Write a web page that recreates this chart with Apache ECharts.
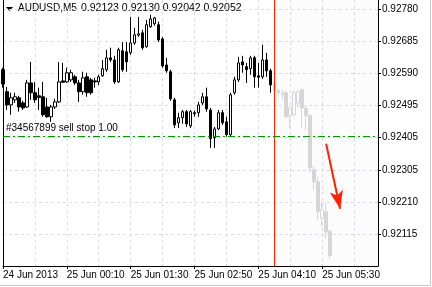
<!DOCTYPE html>
<html><head><meta charset="utf-8">
<script src="https://cdn.jsdelivr.net/npm/echarts@6/dist/echarts.min.js"></script>
<style>html,body{margin:0;padding:0;background:#fff}#c{width:432px;height:287px}</style>
</head><body><div id="c"></div>
<script>
// ---- data ----
const symbolName = 'AUDUSD,M5';
const headerValues = '0.92123 0.92130 0.92042 0.92052';
const xTickLabels = ['24 Jun 2013', '25 Jun 00:10', '25 Jun 01:30', '25 Jun 02:50', '25 Jun 04:10', '25 Jun 05:30'];
const yTickLabels = ['0.92780', '0.92685', '0.92590', '0.92495', '0.92405', '0.92305', '0.92210', '0.92115'];

const opens = [
  0.92601,0.92536,0.92497,0.92512,0.92518,0.92503,0.92491,0.92562,0.92533,0.92524,
  0.92521,0.92491,0.92462,0.92491,0.92506,0.92568,0.92565,0.92571,0.92580,0.92562,
  0.92536,0.92580,0.92571,0.92568,0.92565,0.92583,0.92601,0.92636,0.92630,0.92565,
  0.92657,0.92654,0.92651,0.92680,0.92703,0.92710,0.92669,0.92728,0.92737,0.92734,
  0.92692,0.92615,0.92595,0.92512,0.92444,0.92459,0.92477,0.92435,0.92474,0.92474,
  0.92503,0.92521,0.92482,0.92400,0.92426,0.92474,0.92447,0.92409,0.92533,0.92571,
  0.92624,0.92610,0.92604,0.92636,0.92583,0.92580,0.92630,0.92598,
  0.92562,0.92539,0.92527,0.92533,0.92465,0.92468,0.92503,0.92542,0.92488,0.92465,
  0.92305,0.92270,0.92163,0.92181,0.92123
];
const closes = [
  0.92559,0.92497,0.92518,0.92521,0.92491,0.92488,0.92562,0.92533,0.92512,0.92519,
  0.92468,0.92462,0.92491,0.92506,0.92565,0.92564,0.92592,0.92592,0.92562,0.92536,
  0.92577,0.92533,0.92533,0.92565,0.92580,0.92604,0.92636,0.92630,0.92565,0.92660,
  0.92601,0.92624,0.92680,0.92704,0.92707,0.92666,0.92734,0.92751,0.92754,0.92689,
  0.92612,0.92598,0.92515,0.92438,0.92459,0.92477,0.92441,0.92477,0.92471,0.92497,
  0.92521,0.92485,0.92397,0.92426,0.92474,0.92444,0.92409,0.92527,0.92571,0.92621,
  0.92615,0.92601,0.92636,0.92580,0.92579,0.92630,0.92598,0.92556,
  0.92539,0.92533,0.92533,0.92462,0.92488,0.92533,0.92536,0.92488,0.92465,0.92311,
  0.92270,0.92181,0.92187,0.92122,0.92052
];
const highs = [
  0.92607,0.92550,0.92533,0.92533,0.92524,0.92509,0.92571,0.92624,0.92565,0.92548,
  0.92565,0.92518,0.92497,0.92515,0.92624,0.92621,0.92607,0.92601,0.92586,0.92571,
  0.92595,0.92592,0.92577,0.92577,0.92586,0.92630,0.92660,0.92666,0.92642,0.92666,
  0.92683,0.92683,0.92757,0.92725,0.92757,0.92719,0.92748,0.92763,0.92757,0.92743,
  0.92698,0.92636,0.92601,0.92518,0.92474,0.92482,0.92482,0.92482,0.92480,0.92506,
  0.92533,0.92548,0.92488,0.92432,0.92482,0.92482,0.92462,0.92533,0.92580,0.92639,
  0.92642,0.92621,0.92642,0.92642,0.92621,0.92675,0.92651,0.92604,
  0.92568,0.92545,0.92542,0.92539,0.92494,0.92539,0.92542,0.92545,0.92494,0.92471,
  0.92317,0.92285,0.92208,0.92208,0.92130
];
const lows = [
  0.92548,0.92482,0.92468,0.92503,0.92477,0.92482,0.92488,0.92512,0.92503,0.92482,
  0.92462,0.92459,0.92447,0.92485,0.92503,0.92562,0.92562,0.92565,0.92556,0.92506,
  0.92527,0.92521,0.92527,0.92548,0.92556,0.92580,0.92595,0.92624,0.92559,0.92562,
  0.92595,0.92595,0.92645,0.92675,0.92698,0.92660,0.92666,0.92725,0.92731,0.92683,
  0.92607,0.92592,0.92509,0.92429,0.92429,0.92441,0.92432,0.92429,0.92462,0.92462,
  0.92497,0.92477,0.92370,0.92370,0.92423,0.92438,0.92403,0.92403,0.92527,0.92565,
  0.92592,0.92562,0.92586,0.92548,0.92548,0.92574,0.92580,0.92533,
  0.92533,0.92521,0.92512,0.92459,0.92429,0.92462,0.92491,0.92432,0.92423,0.92299,
  0.92246,0.92157,0.92137,0.92104,0.92042
];
const firstFutureBar = 68;      // bars from here on are the grey projection
const totalSlots = 94;          // bar slots across the plot width
const orderPrice = 0.92403;
const orderLabel = '#34567899 sell stop 1.00';
const arrowFrom = [81, 0.92382];
const arrowTo = [84.5, 0.92190];
const yMin = 0.92021, yMax = 0.92807;
const yTickStep = 0.00095;

// ---- build ----
const realBars = [], futureBars = [];
for (let k = 0; k < opens.length; k++) {
  const item = [k, opens[k], closes[k], lows[k], highs[k]];
  (k < firstFutureBar ? realBars : futureBars).push(item);
}
const yTickValues = yTickLabels.map((s, i) => +(0.92780 - i * yTickStep).toFixed(6));
function yLabel(v) {
  let best = 0, d = Infinity;
  yTickValues.forEach((t, i) => { if (Math.abs(t - v) < d) { d = Math.abs(t - v); best = i; } });
  return yTickLabels[best];
}
const FONT = 'Liberation Sans';
const gridLine = { show: true, lineStyle: { color: '#dcdcf0', type: [3, 3], width: 1 } };

const chart = echarts.init(document.getElementById('c'), null, { renderer: 'canvas' });
chart.setOption({
  animation: false,
  backgroundColor: '#ffffff',
  textStyle: { fontFamily: FONT },
  grid: { left: 2, right: 54, top: 0, bottom: 21, containLabel: false },
  xAxis: [
    { type: 'value', min: 0, max: totalSlots, interval: 8, position: 'bottom',
      axisLine: { show: false, onZero: false }, axisTick: { show: false }, axisLabel: { show: false },
      splitLine: gridLine },
    { type: 'value', min: 0, max: totalSlots, interval: 16, position: 'bottom',
      axisLine: { show: true, onZero: false, lineStyle: { color: '#000', width: 1 } },
      axisTick: { show: true, length: 3, lineStyle: { color: '#000' } },
      axisLabel: { show: true, color: '#000', fontSize: 10, fontFamily: FONT, align: 'left', margin: 4,
        showMaxLabel: false,
        formatter: v => (v % 16 === 0 && xTickLabels[v / 16]) ? xTickLabels[v / 16] : '' },
      splitLine: { show: false } }
  ],
  yAxis: [
    { type: 'value', position: 'right', min: yMin, max: yMax,
      axisLine: { show: true, onZero: false, lineStyle: { color: '#000', width: 1 } },
      axisTick: { show: true, length: 3, customValues: yTickValues, lineStyle: { color: '#000' } },
      axisLabel: { show: true, customValues: yTickValues, color: '#000', fontSize: 10, fontFamily: FONT, margin: 4,
        formatter: yLabel },
      splitLine: gridLine },
    { type: 'value', position: 'left', min: yMin, max: yMax,
      axisLine: { show: true, onZero: false, lineStyle: { color: '#000', width: 1 } },
      axisTick: { show: false }, axisLabel: { show: false }, splitLine: { show: false } }
  ],
  series: [
    { type: 'candlestick', xAxisIndex: 0, yAxisIndex: 0, data: realBars,
      encode: { x: 0, y: [1, 2, 3, 4] }, barWidth: 3,
      itemStyle: { color: '#ffffff', color0: '#000000', borderColor: '#000000', borderColor0: '#000000', borderWidth: 1 },
      emphasis: { disabled: true }, silent: true,
      markLine: { silent: true, symbol: ['none', 'none'], animation: false,
        data: [
          { xAxis: firstFutureBar, lineStyle: { color: '#ff2200', width: 1, type: 'solid' }, label: { show: false } },
          [
            { coord: [0, orderPrice], lineStyle: { color: '#009a00', width: 1, type: [7, 3, 2, 3] },
              label: { show: true, position: 'insideStartTop', formatter: orderLabel, color: '#000', fontSize: 10,
                fontFamily: FONT, distance: 3 } },
            { coord: [totalSlots, orderPrice] }
          ]
        ] } },
    { type: 'candlestick', xAxisIndex: 0, yAxisIndex: 0, data: futureBars,
      encode: { x: 0, y: [1, 2, 3, 4] }, barWidth: 3,
      itemStyle: { color: '#ffffff', color0: '#d6d6d6', borderColor: '#d6d6d6', borderColor0: '#d6d6d6', borderWidth: 1 },
      emphasis: { disabled: true }, silent: true,
      markArea: { silent: true, itemStyle: { color: 'rgba(0,0,0,0.012)' },
        data: [[{ xAxis: firstFutureBar }, { xAxis: totalSlots }]] },
      markLine: { silent: true, animation: false,
        data: [[
          { coord: arrowFrom, symbol: 'none' },
          { coord: arrowTo, symbol: 'arrow', symbolSize: [10, 18] }
        ]],
        lineStyle: { color: '#ff2200', width: 2, type: 'solid' }, label: { show: false } } }
  ],
  graphic: [
    { type: 'polygon', shape: { points: [[6, 7], [13, 7], [9.5, 11]] }, style: { fill: '#000' } },
    { type: 'text', left: 18, top: 3, style: { text: symbolName, fill: '#000', font: '10px "Liberation Sans"' } },
    { type: 'text', left: 81, top: 3, style: { text: headerValues, fill: '#000', font: '10.5px "Liberation Sans"' } },
    { type: 'polyline', shape: { points: [[430.5, 0], [430.5, 285.5], [0, 285.5]] }, style: { stroke: '#c8c8c8', lineWidth: 1, fill: null } }
  ]
});
</script></body></html>
